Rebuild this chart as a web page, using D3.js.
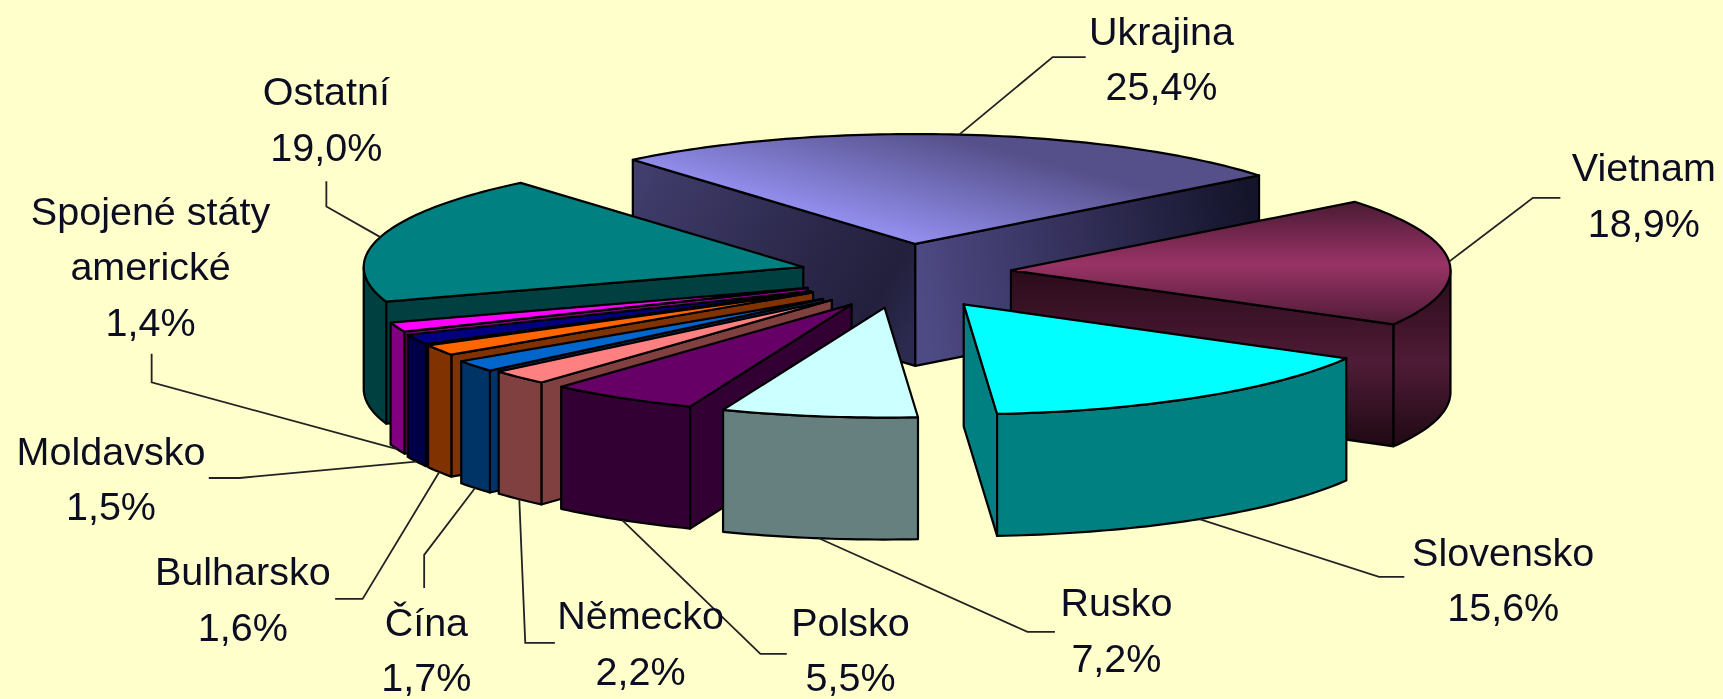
<!DOCTYPE html>
<html>
<head>
<meta charset="utf-8">
<script src="https://cdnjs.cloudflare.com/ajax/libs/d3/7.8.5/d3.min.js"></script>
<style>
html,body{margin:0;padding:0;background:#ffffcc;overflow:hidden}
svg{display:block;filter:blur(0.7px)}
text{font-family:"Liberation Sans",Arial,sans-serif;font-size:39.5px;fill:#0d0d22;text-anchor:middle}
</style>
</head>
<body>
<svg id="chart" width="1723" height="699"></svg>
<script>
// ---- data ----
const categories = ["Ukrajina","Vietnam","Slovensko","Rusko","Polsko","Německo","Čína","Bulharsko","Moldavsko","Spojené státy americké","Ostatní"];
const shares = [25.4,18.9,15.6,7.2,5.5,2.2,1.7,1.6,1.5,1.4,19.0];

// ---- style and layout (coordinates in the 1568-wide reference frame) ----
const labelLines = [["Ukrajina"],["Vietnam"],["Slovensko"],["Rusko"],["Polsko"],["Německo"],["Čína"],["Bulharsko"],["Moldavsko"],["Spojené státy","americké"],["Ostatní"]];
const topColors  = ["url(#uTop)","url(#vTop)","#00ffff","#ccffff","#660066","#ff8080","#0066cc","#ff6600","#000080","#ff00ff","#008080"];
const sideColors = ["url(#uRim)","url(#vSide)","#008080","#668080","#330033","#804040","#003366","#803300","#000046","#800080","#004040"];
const startFaceColors = ["url(#uLeft)",null,null,null,"#330033","#804040","#003366","#803300","#000046","#800080","#004040"];
const endFaceColors   = ["url(#uRight)","url(#vSide)","#008080",null,null,null,null,null,null,null,null];
const apexX = [833,920,877,805,775,757,749,740,738,735,731];
const apexY = [222,246,277,280,277,273,272,266,265,262,243];
const paintOrder = [0,10,9,8,7,6,5,4,1,2,3];
const labelX = [1057,1496,1368,1016,774,583,388,221,101,137,297];
const labelY = [28,152,502,548,566,560,566,520,410,192,83];
const elbowX = [958,1395,1255,935,692,478,386,330,218,138,297];
const elbowY = [52,180,525,575,595,585,505,545,435,348,188];
const tailX  = [988,1420,1278,960,716,505,386,305,190,138,297];
const tailY  = [52,180,525,575,595,585,535,545,435,322,165];

const radiusX = 400, radiusY = 100, depth = 111, lineStep = 50.5, pieStart = -40;

const frame = d3.scaleLinear().domain([0,1568]).range([0,1723]);
const svg = d3.select("#chart");
const fmt = d3.formatLocale({decimal:",",thousands:" ",grouping:[3],currency:["",""]}).format(".1f");

// gradients
const defs = svg.append("defs");
function gradient(id, x1,y1,x2,y2, stops){
  const g = defs.append("linearGradient").attr("id",id).attr("gradientUnits","userSpaceOnUse")
    .attr("x1",frame(x1)).attr("y1",frame(y1)).attr("x2",frame(x2)).attr("y2",frame(y2));
  stops.forEach(s=>g.append("stop").attr("offset",s[0]).attr("stop-color",s[1]));
}
gradient("uTop",833,222,860,122,[[0,"#9490f0"],[1,"#555089"]]);
gradient("uLeft",580,150,833,300,[[0,"#423e6e"],[0.6,"#2a2749"],[0.85,"#22203c"],[1,"#2c2a4e"]]);
gradient("uRight",833,250,1142,200,[[0,"#4e4a84"],[0.45,"#35315c"],[1,"#14142a"]]);
gradient("uRim",833,120,1142,300,[[0,"#2c2a4e"],[1,"#14142a"]]);
gradient("vTop",0,183,0,298,[[0,"#4a1a33"],[0.5,"#993366"],[1,"#4a1a33"]]);
gradient("vSide",0,250,0,410,[[0,"#2c0c1c"],[0.5,"#4f1b36"],[1,"#1c0812"]]);

const pie = d3.pie().sort(null).value(d=>d).startAngle(pieStart*Math.PI/180).endAngle((360+pieStart)*Math.PI/180);
const arcs = pie(shares);

const line = d3.line().x(d=>frame(d[0])).y(d=>frame(d[1]));
const rimPt = (i,t,drop=0)=>[apexX[i]+radiusX*Math.sin(t), apexY[i]-radiusY*Math.cos(t)+drop];
function sweep(i,a0,a1,drop){
  const n = Math.max(2,Math.ceil(Math.abs(a1-a0)/0.02));
  return d3.range(n+1).map(k=>rimPt(i,a0+(a1-a0)*k/n,drop));
}
const stroke = {stroke:"#000","stroke-width":2.2,"stroke-linejoin":"round"};
function face(g,pts,fill){
  const p = g.append("path").attr("d",line(pts)+"Z").attr("fill",fill);
  Object.entries(stroke).forEach(([k,v])=>p.attr(k,v));
}

const pieG = svg.append("g");
paintOrder.forEach(i=>{
  const a = arcs[i], g = pieG.append("g");
  const A=[apexX[i],apexY[i]], B=[apexX[i],apexY[i]+depth];
  // cut faces
  if(Math.sin(a.startAngle)<0){
    const e=rimPt(i,a.startAngle), f=rimPt(i,a.startAngle,depth);
    face(g,[A,e,f,B],startFaceColors[i]);
  }
  if(Math.sin(a.endAngle)>0){
    const e=rimPt(i,a.endAngle), f=rimPt(i,a.endAngle,depth);
    face(g,[A,e,f,B],endFaceColors[i]);
  }
  // outer wall: only the part facing the viewer
  const lo = Math.max(a.startAngle,Math.PI/2), hi = Math.min(a.endAngle,Math.PI*1.5);
  if(hi>lo){
    face(g,sweep(i,lo,hi,0).concat(sweep(i,hi,lo,depth)),sideColors[i]);
  }
  // top
  face(g,[A].concat(sweep(i,a.startAngle,a.endAngle,0)),topColors[i]);
});

// leader lines
const leaders = svg.append("g").attr("fill","none").attr("stroke","#222").attr("stroke-width",1.8);
arcs.forEach((a,i)=>{
  const mid=(a.startAngle+a.endAngle)/2;
  const start=rimPt(i,mid,Math.cos(mid)<0?depth:0);
  leaders.append("path").attr("d",line([start,[elbowX[i],elbowY[i]],[tailX[i],tailY[i]]]));
});

// labels
const labels = svg.append("g");
categories.forEach((c,i)=>{
  const rows = labelLines[i].concat(fmt(shares[i])+"%");
  const t = labels.append("text");
  rows.forEach((r,k)=>t.append("tspan").attr("x",frame(labelX[i])).attr("y",frame(labelY[i]+k*lineStep)+14).text(r));
});
</script>
</body>
</html>
